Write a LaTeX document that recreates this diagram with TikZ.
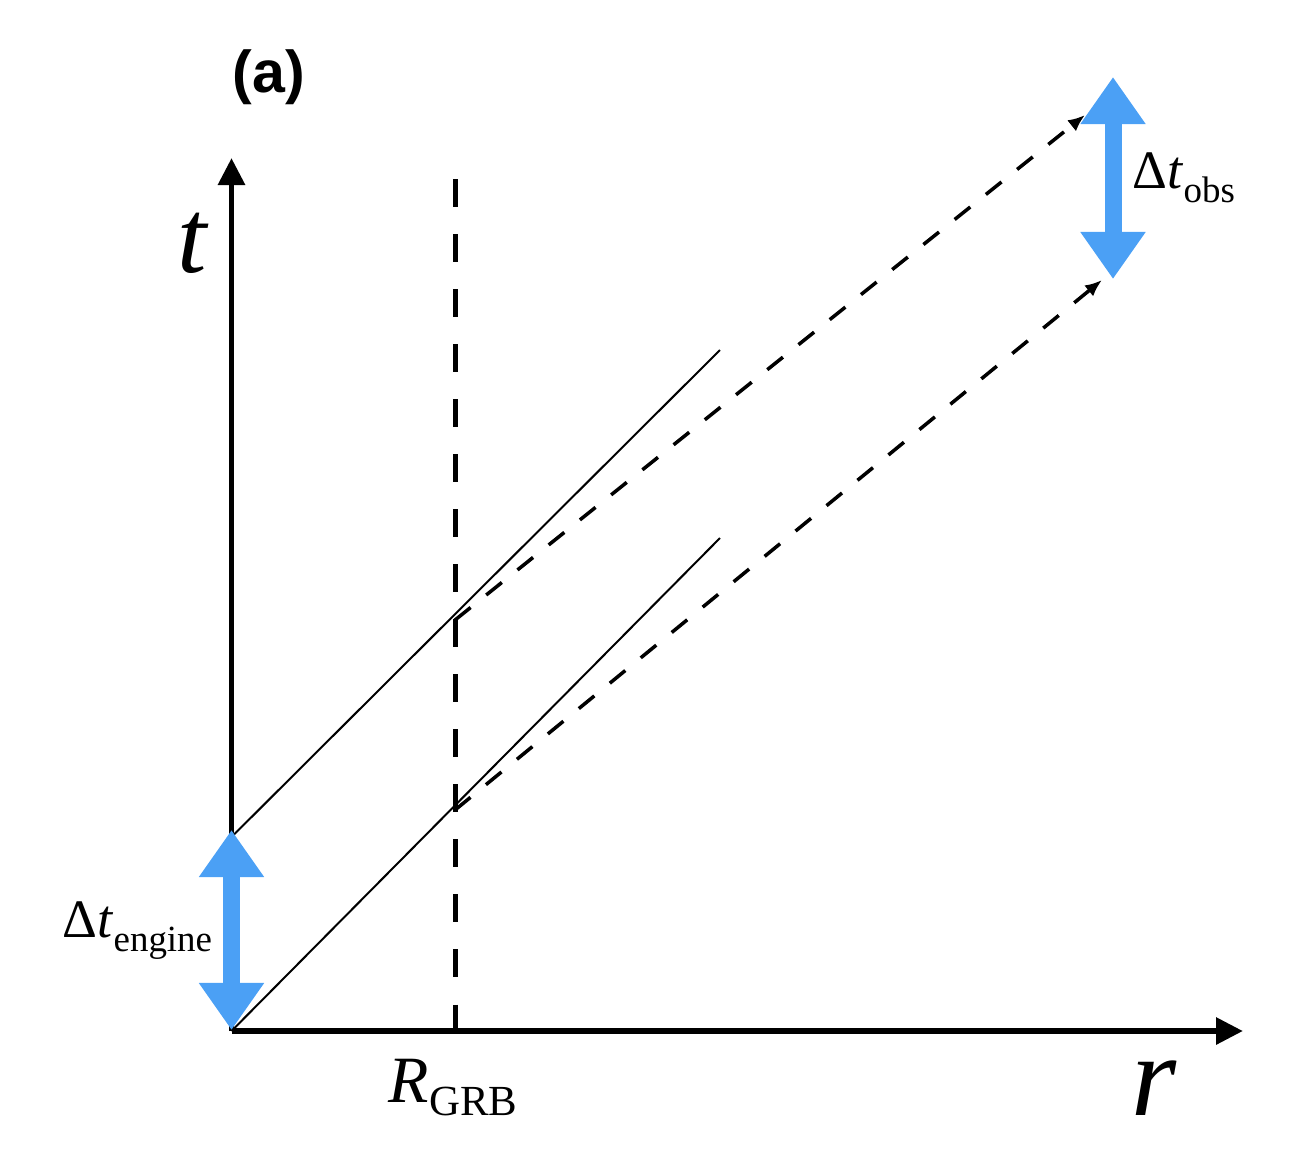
\documentclass[tikz,border=0pt]{standalone}
\usepackage{fontspec}
\setmainfont{Liberation Serif}
\newfontfamily\labsans{Liberation Sans}
\usetikzlibrary{arrows.meta}
\definecolor{bluearr}{RGB}{75,160,245}
\tikzset{
  axisline/.style={line width=1.7pt, -{Triangle[length=0.27cm,width=0.26cm]}},
  rgbline/.style={line width=1.42pt, dash pattern=on 0.28cm off 0.27cm},
  worldline/.style={line width=0.57pt},
  photon/.style={line width=1pt, dash pattern=on 0.2cm off 0.2cm, -{Latex[length=0.17cm,width=0.14cm]}},
  bigdbl/.style={bluearr, line width=0.17cm, {Triangle[length=0.47cm,width=0.62cm]}-{Triangle[length=0.47cm,width=0.62cm]}},
  lbl/.style={anchor=base west, inner sep=0pt}
}
\begin{document}
\begin{tikzpicture}[x=0.01cm,y=-0.01cm]
\useasboundingbox (0,0) rectangle (1300,1166);
\coordinate (O) at (231.5,1031);
\coordinate (ttip) at (231.5,158);
\coordinate (rtip) at (1243,1031);
\coordinate (vtop) at (455,179);
\coordinate (vbot) at (455,1031);
\coordinate (s2a) at (231.5,837);
\coordinate (s1b) at (720,538);
\coordinate (s2b) at (720,350);
\coordinate (pA) at (455,620);
\coordinate (pB) at (455,810);
\coordinate (eA) at (1085,115);
\coordinate (eB) at (1102,280);
\coordinate (beTop) at (231.5,830);
\coordinate (beBot) at (231.5,1030);
\coordinate (boTop) at (1113,77);
\coordinate (boBot) at (1113,279);

\draw[rgbline] (vtop) -- (vbot);
\draw[axisline] (O) -- (ttip);
\draw[axisline] (O) -- (rtip);
\draw[worldline] (O) -- (s1b);
\draw[worldline] (s2a) -- (s2b);
\draw[photon] (pA) -- (eA);
\draw[photon] (pB) -- (eB);
\draw[bigdbl] (beTop) -- (beBot);
\draw[bigdbl] (boTop) -- (boBot);

\node[lbl, font=\labsans\bfseries\fontsize{16.8pt}{20pt}\selectfont] (la) at (232,92) {(a)};
\node[lbl, font=\fontsize{30pt}{36pt}\selectfont\itshape] (lt) at (177,272) {t};
\node[lbl, font=\fontsize{33pt}{40pt}\selectfont\itshape] (lr) at (1131,1115) {r};
\node[lbl] (lR) at (388,1102) {\fontsize{18.8pt}{22pt}\selectfont\textit{R}\raisebox{-3.7pt}{\fontsize{12.2pt}{14pt}\selectfont GRB}};
\node[lbl] (le) at (62,937) {\fontsize{15.4pt}{18pt}\selectfont Δ\textit{t}\raisebox{-4pt}{\fontsize{10.5pt}{12pt}\selectfont engine}};
\node[lbl] (lo) at (1132,188) {\fontsize{15.4pt}{18pt}\selectfont Δ\textit{t}\raisebox{-4pt}{\fontsize{10.5pt}{12pt}\selectfont obs}};
\end{tikzpicture}
\end{document}
